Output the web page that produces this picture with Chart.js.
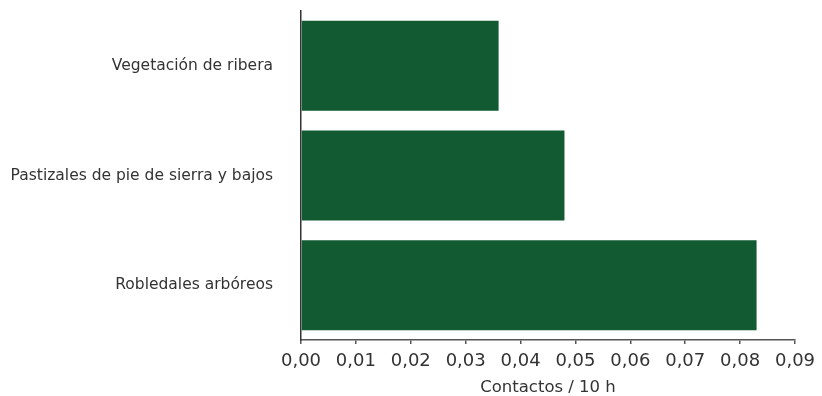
<!DOCTYPE html>
<html>
<head>
<meta charset="utf-8">
<script src="https://cdn.jsdelivr.net/npm/chart.js@4/dist/chart.umd.min.js"></script>
<style>
  html, body { margin: 0; padding: 0; background: #fff; }
  #wrap { width: 822px; height: 396px; }
</style>
</head>
<body>
<div id="wrap"><canvas id="barChart"></canvas></div>
<script>
// datos del gráfico
const categorias = ['Vegetación de ribera', 'Pastizales de pie de sierra y bajos', 'Robledales arbóreos'];
const valores = [0.036, 0.048, 0.083];
const tituloX = 'Contactos / 10 h';

const fuente = "'DejaVu Sans', sans-serif";

const ctx = document.getElementById('barChart').getContext('2d');
new Chart(ctx, {
    type: 'bar',
    data: {
        labels: categorias,
        datasets: [{
            data: valores,
            backgroundColor: '#115a32',
            barPercentage: 0.82,
            categoryPercentage: 1.0
        }]
    },
    options: {
        indexAxis: 'y',
        responsive: true,
        maintainAspectRatio: false,
        animation: false,
        layout: { padding: { top: 11, right: 27, left: 0, bottom: 0 } },
        plugins: { legend: { display: false }, tooltip: { enabled: false } },
        scales: {
            x: {
                min: 0,
                max: 0.09,
                ticks: {
                    stepSize: 0.01,
                    color: '#333',
                    font: { family: fuente, size: 18 },
                    padding: 7,
                    maxRotation: 0,
                    callback: v => v.toFixed(2).replace('.', ',')
                },
                grid: { drawOnChartArea: false, tickLength: 4, color: '#555', lineWidth: 1.5 },
                border: { color: '#555', width: 1.5 },
                title: {
                    display: true,
                    text: tituloX,
                    color: '#333',
                    font: { family: fuente, size: 16.5 },
                    padding: { top: 2, bottom: -2 }
                },
                afterFit: s => { s.height = 56; s.paddingLeft = 0; s.paddingRight = 0; }
            },
            y: {
                ticks: {
                    color: '#333',
                    font: { family: fuente, size: 15.5 },
                    padding: 28
                },
                grid: { display: false, drawTicks: false },
                border: { color: '#333', width: 1.5 },
                afterFit: s => { s.width = 301; s.paddingTop = 0; s.paddingBottom = 0; }
            }
        }
    }
});
</script>
</body>
</html>
